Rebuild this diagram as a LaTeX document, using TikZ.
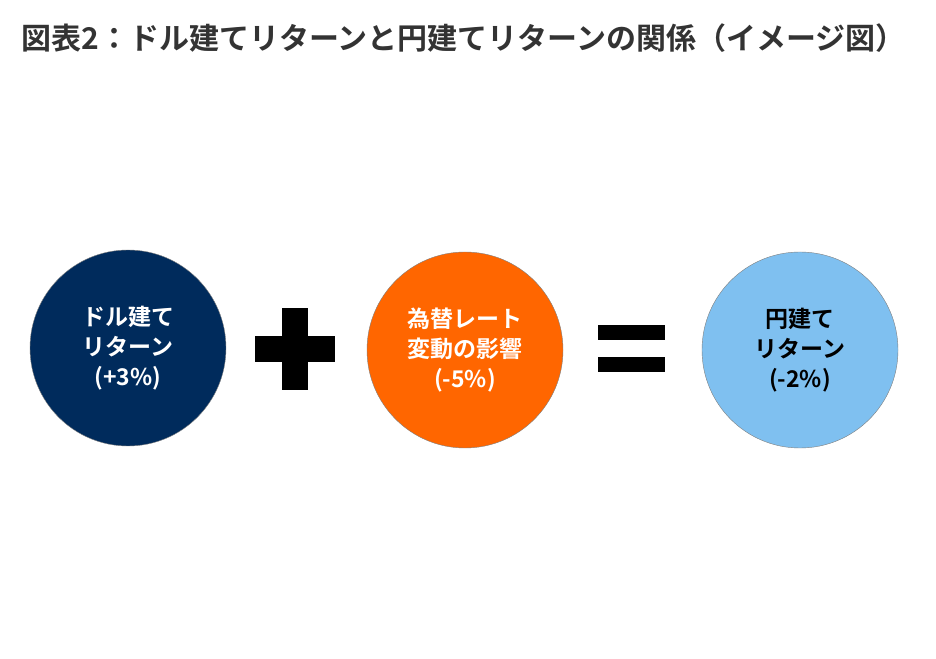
\documentclass[tikz,border=0pt]{standalone}
\usepackage{fontspec}
\setmainfont{Noto Sans CJK JP}[BoldFont={* Bold}]
\definecolor{navy}{HTML}{002B5C}
\definecolor{orng}{HTML}{FF6600}
\definecolor{lblue}{HTML}{7FC0F0}
\definecolor{ttl}{HTML}{333333}
\begin{document}
\begin{tikzpicture}[x=1pt,y=1pt,
  circ/.style={circle,minimum size=196pt,inner sep=0pt,align=center,font=\bfseries\fontsize{23}{30}\selectfont},
  bar/.style={fill=black,draw=none}]
\useasboundingbox (0,0) rectangle (936,658);
\node[anchor=west,text=ttl,font=\bfseries\fontsize{30}{34}\selectfont] (title) at (18,620) {図表2：ドル建てリターンと円建てリターンの関係（イメージ図）};
\node[circ,fill=navy,draw=gray,text=white] (a) at (128,310) {ドル建て\\リターン\\(+3\%)};
\node[circ,fill=orng,draw=gray,text=white] (b) at (465,308) {為替レート\\変動の影響\\(-5\%)};
\node[circ,fill=lblue,draw=gray,text=black] (c) at (800,308) {円建て\\リターン\\(-2\%)};
\fill[bar] (255,296) rectangle (335,322);
\fill[bar] (282,268) rectangle (308,350);
\fill[bar] (598,318) rectangle (665,333);
\fill[bar] (598,286) rectangle (665,301);
\end{tikzpicture}
\end{document}
